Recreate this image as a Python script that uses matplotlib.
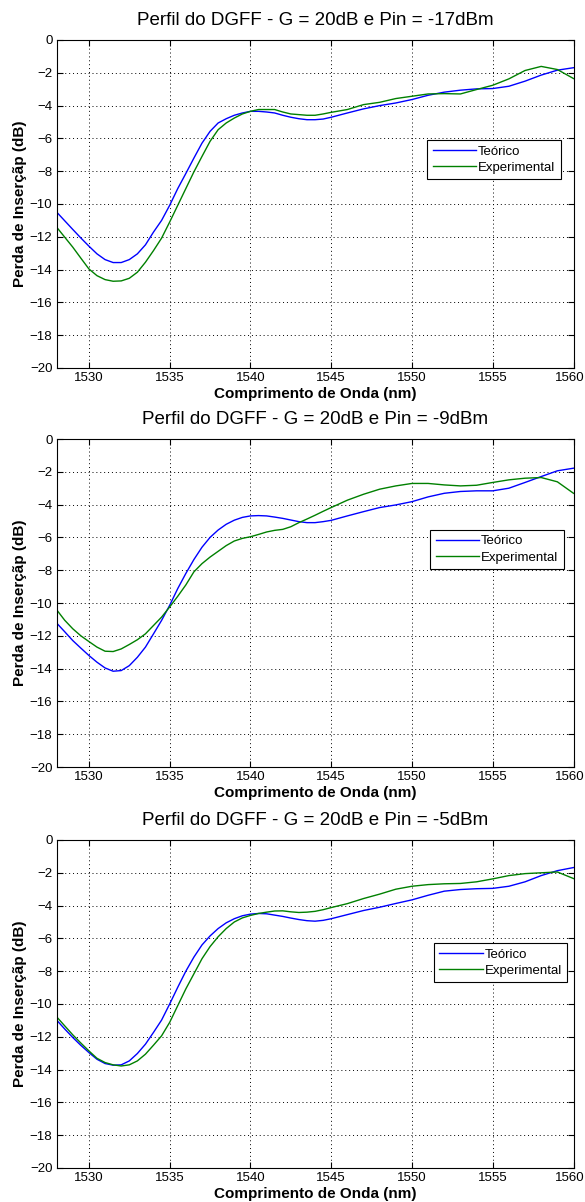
import matplotlib
matplotlib.use("Agg")
import matplotlib.pyplot as plt
from matplotlib import transforms

# wavelength grid: 0.5 nm steps up to 1545 nm, then 1 nm steps
wavelength = [1528 + 0.5 * k for k in range(35)] + list(range(1546, 1561))

teo_17 = [-10.49, -11.02, -11.55, -12.07, -12.57, -13.04, -13.39, -13.57, -13.57, -13.39,
          -13.04, -12.49, -11.71, -11.0, -10.08, -9.06, -8.14, -7.2, -6.29, -5.57,
          -5.06, -4.8, -4.59, -4.45, -4.35, -4.35, -4.39, -4.45, -4.59, -4.71,
          -4.8, -4.86, -4.86, -4.82, -4.71,
          -4.45, -4.2, -4.0, -3.84, -3.63, -3.37, -3.18, -3.06, -2.98, -2.96,
          -2.82, -2.51, -2.14, -1.84, -1.69]
exp_17 = [-11.41, -12.02, -12.63, -13.3, -13.96, -14.37, -14.61, -14.71, -14.69, -14.53,
          -14.16, -13.55, -12.84, -12.08, -11.1, -10.08, -9.06, -8.04, -7.1, -6.18,
          -5.47, -5.06, -4.76, -4.51, -4.35, -4.24, -4.24, -4.24, -4.39, -4.51,
          -4.55, -4.59, -4.59, -4.51, -4.41,
          -4.24, -3.94, -3.8, -3.57, -3.43, -3.29, -3.27, -3.29, -3.02, -2.76,
          -2.37, -1.86, -1.61, -1.8, -2.35]

teo_9 = [-11.22, -11.75, -12.29, -12.75, -13.2, -13.61, -13.96, -14.16, -14.12, -13.82,
         -13.31, -12.69, -11.88, -11.06, -10.14, -9.12, -8.2, -7.35, -6.6, -6.0,
         -5.55, -5.2, -4.95, -4.78, -4.69, -4.67, -4.69, -4.76, -4.84, -4.94,
         -5.04, -5.1, -5.1, -5.04, -4.96,
         -4.69, -4.43, -4.18, -4.02, -3.82, -3.53, -3.31, -3.2, -3.16, -3.16,
         -3.0, -2.65, -2.29, -1.94, -1.78]
exp_9 = [-10.41, -11.05, -11.57, -12.0, -12.35, -12.69, -12.94, -12.96, -12.8, -12.53,
         -12.24, -11.88, -11.37, -10.86, -10.24, -9.59, -8.9, -8.1, -7.6, -7.2,
         -6.85, -6.5, -6.22, -6.06, -5.96, -5.82, -5.67, -5.57, -5.51, -5.35,
         -5.1, -4.88, -4.65, -4.41, -4.18,
         -3.73, -3.37, -3.06, -2.86, -2.71, -2.71, -2.8, -2.86, -2.82, -2.65,
         -2.49, -2.39, -2.35, -2.61, -3.31]

teo_5 = [-10.98, -11.52, -12.04, -12.52, -12.96, -13.37, -13.63, -13.73, -13.71, -13.47,
         -13.02, -12.45, -11.73, -10.98, -10.0, -8.98, -8.0, -7.14, -6.4, -5.85,
         -5.4, -5.05, -4.8, -4.62, -4.52, -4.48, -4.5, -4.58, -4.66, -4.76,
         -4.85, -4.92, -4.95, -4.9, -4.8,
         -4.55, -4.3, -4.1, -3.87, -3.65, -3.37, -3.12, -3.02, -2.97, -2.95,
         -2.82, -2.55, -2.17, -1.87, -1.68]
exp_5 = [-10.78, -11.33, -11.88, -12.38, -12.86, -13.31, -13.57, -13.71, -13.78, -13.71,
         -13.47, -13.06, -12.51, -11.94, -11.12, -10.1, -9.08, -8.16, -7.24, -6.5,
         -5.9, -5.4, -5.0, -4.75, -4.6, -4.48, -4.4, -4.33, -4.32, -4.38,
         -4.42, -4.4, -4.35, -4.25, -4.12,
         -3.88, -3.57, -3.3, -3.0, -2.82, -2.72, -2.67, -2.65, -2.55, -2.37,
         -2.17, -2.05, -2.0, -1.95, -2.35]

titles = ["Perfil do DGFF - G = 20dB e Pin = -17dBm",
          "Perfil do DGFF - G = 20dB e Pin = -9dBm",
          "Perfil do DGFF - G = 20dB e Pin = -5dBm"]
series = [(teo_17, exp_17), (teo_9, exp_9), (teo_5, exp_5)]
legend_labels = ["Teórico", "Experimental"]
xticks = [1530, 1535, 1540, 1545, 1550, 1555, 1560]
yticks = list(range(-20, 1, 2))

plt.rcParams['font.family'] = ['Liberation Sans', 'DejaVu Sans']

fig = plt.figure(figsize=(5.85, 12.02), dpi=100)
left, width = 56.6 / 585, (573.5 - 56.6) / 585
bottoms = [1 - 368 / 1202, 1 - 767 / 1202, 1 - 1168 / 1202]
height = 328 / 1202
legend_anchor = [(0.975, 0.576), (0.981, 0.604), (0.988, 0.566)]

for i in range(3):
    ax = fig.add_axes([left, bottoms[i], width, height])
    teo, exp = series[i]
    ax.plot(wavelength, teo, color=(0, 0, 1), lw=1.0, label=legend_labels[0])
    ax.plot(wavelength, exp, color=(0, 0.5, 0), lw=1.0, label=legend_labels[1])
    ax.set_xlim(1528, 1560)
    ax.set_ylim(-20, 0)
    ax.set_xticks(xticks)
    ax.set_yticks(yticks)
    ax.grid(True, linestyle=(0, (1, 3)), color='black', lw=0.7)
    ax.tick_params(direction='in', top=True, right=True, length=4, width=0.8, pad=3,
                   labelsize=9.5)
    # keep the last x tick label inside the figure
    last = ax.get_xticklabels()[-1]
    last.set_transform(last.get_transform() +
                       transforms.ScaledTranslation(-4 / 100, 0, fig.dpi_scale_trans))
    for s in ax.spines.values():
        s.set_linewidth(0.8)
    ax.set_title(titles[i], fontsize=13.5, pad=11)
    ax.set_xlabel("Comprimento de Onda (nm)", fontsize=11, fontweight='bold', labelpad=2)
    ax.set_ylabel("Perda de Inserçãp (dB)", fontsize=11, fontweight='bold', labelpad=2)
    leg = ax.legend(loc='lower right', bbox_to_anchor=legend_anchor[i],
                    fontsize=9.5, fancybox=False, framealpha=1,
                    edgecolor='black', handlelength=3.3, handletextpad=0.15,
                    borderpad=0.4, labelspacing=0.3, borderaxespad=0)
    leg.get_frame().set_linewidth(0.8)

fig.savefig("out.png", dpi=100)
